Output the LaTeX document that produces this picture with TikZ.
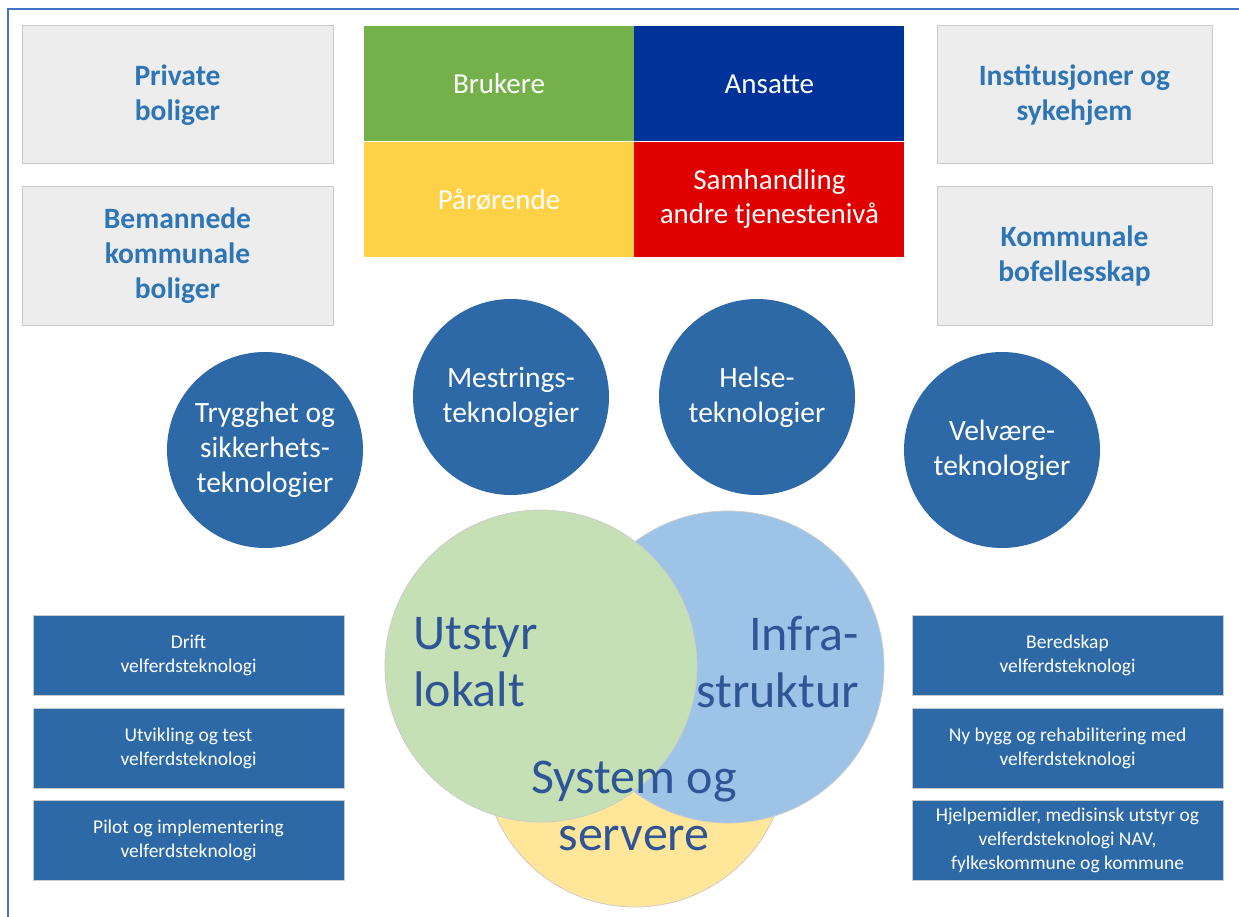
\documentclass[tikz,border=0pt]{standalone}
\usepackage{fontspec}
\setmainfont{Carlito}
\usetikzlibrary{positioning}

\definecolor{frameblue}{HTML}{4472C4}
\definecolor{boxgray}{HTML}{EDEDED}
\definecolor{boxline}{HTML}{C9C9C9}
\definecolor{graytxt}{HTML}{2E75B6}
\definecolor{brukgreen}{HTML}{74B14A}
\definecolor{ansblue}{HTML}{00339A}
\definecolor{paryellow}{HTML}{FFD146}
\definecolor{samred}{HTML}{E10000}
\definecolor{techblue}{HTML}{2C69A6}
\definecolor{venngreen}{HTML}{C5E0B4}
\definecolor{vennblue}{HTML}{9DC3E6}
\definecolor{vennyellow}{HTML}{FFE699}
\definecolor{venntxt}{HTML}{2F5597}

\tikzset{
  boligbox/.style={draw=boxline, fill=boxgray, line width=1pt, minimum height=138pt,
    align=center, text=graytxt, font=\bfseries\fontsize{29.5}{35}\selectfont},
  gruppe/.style={minimum width=270pt, minimum height=115pt, inner sep=0pt,
    align=center, text=white, font=\fontsize{29}{34}\selectfont},
  tekcirc/.style={circle, fill=techblue, minimum size=196pt, inner sep=0pt,
    align=center, text=white, font=\fontsize{29.5}{35}\selectfont},
  omrbox/.style={draw=boxline, fill=techblue, line width=1pt, minimum width=311pt,
    minimum height=80pt, align=center, text=white, font=\fontsize{19.5}{24}\selectfont},
  venn/.style={circle, draw=black!20, line width=0.8pt, minimum size=312pt, inner sep=0pt},
  venntekst/.style={inner sep=0pt, text=venntxt, font=\fontsize{50}{57}\selectfont}
}

\begin{document}
\begin{tikzpicture}[x=1pt, y=-1pt]
		\useasboundingbox (0,0) rectangle (1239,917);
		\draw[frameblue, line width=1.5pt] (8,917) -- (8,9) -- (1239,9);
		% boliger
		\node[boligbox, minimum width=311pt] (privat) at (177.5,95) {Private\\boliger};
		\node[boligbox, minimum width=311pt] (bemannet) at (177.5,256) {Bemannede\\kommunale\\boliger};
		\node[boligbox, minimum width=275pt] (institusjon) at (1074.5,95) {Institusjoner og\\sykehjem};
		\node[boligbox, minimum width=275pt] (bofelles) at (1074.5,256) {Kommunale\\bofellesskap};
		% grupper
		\node[gruppe, fill=brukgreen] (brukere) at (499,84) {Brukere};
		\node[gruppe, fill=ansblue, right=0pt of brukere] (ansatte) {Ansatte};
		\node[gruppe, fill=paryellow, below=0pt of brukere] (parorende) {Pårørende};
		\node[gruppe, fill=samred, below=0pt of ansatte] (samhandling) {Samhandling\\andre tjenestenivå};
		% teknologier
		\node[tekcirc] (trygghet) at (265,450) {Trygghet og\\sikkerhets-\\teknologier};
		\node[tekcirc] (mestring) at (511,397) {Mestrings-\\teknologier};
		\node[tekcirc] (helse) at (757,397) {Helse-\\teknologier};
		\node[tekcirc] (velvaere) at (1002,450) {Velvære-\\teknologier};
		% venn
		\node[venn, fill=vennyellow, minimum size=304pt] (system) at (635,755) {};
		\node[venn, fill=vennblue] (infra) at (728,667) {};
		\node[venn, fill=venngreen] (utstyr) at (541,666) {};
		\node[venntekst, align=left, anchor=west] (utstyrtxt) at (413,662) {Utstyr\\lokalt};
		\node[venntekst, align=right, anchor=east] (infratxt) at (859,662) {Infra-\\struktur};
		\node[venntekst, align=center] (systemtxt) at (634,806) {System og\\servere};
		% omraader
		\node[omrbox] (drift) at (188.5,655) {Drift\\velferdsteknologi};
		\node[omrbox] (utvikling) at (188.5,748.5) {Utvikling og test\\velferdsteknologi};
		\node[omrbox] (pilot) at (188.5,840.5) {Pilot og implementering\\velferdsteknologi};
		\node[omrbox] (beredskap) at (1067.5,655) {Beredskap\\velferdsteknologi};
		\node[omrbox] (nybygg) at (1067.5,748.5) {Ny bygg og rehabilitering med\\velferdsteknologi};
		\node[omrbox] (hjelpemidler) at (1067.5,840.5) {Hjelpemidler, medisinsk utstyr og\\velferdsteknologi NAV,\\fylkeskommune og kommune};
	\end{tikzpicture}
\end{document}
